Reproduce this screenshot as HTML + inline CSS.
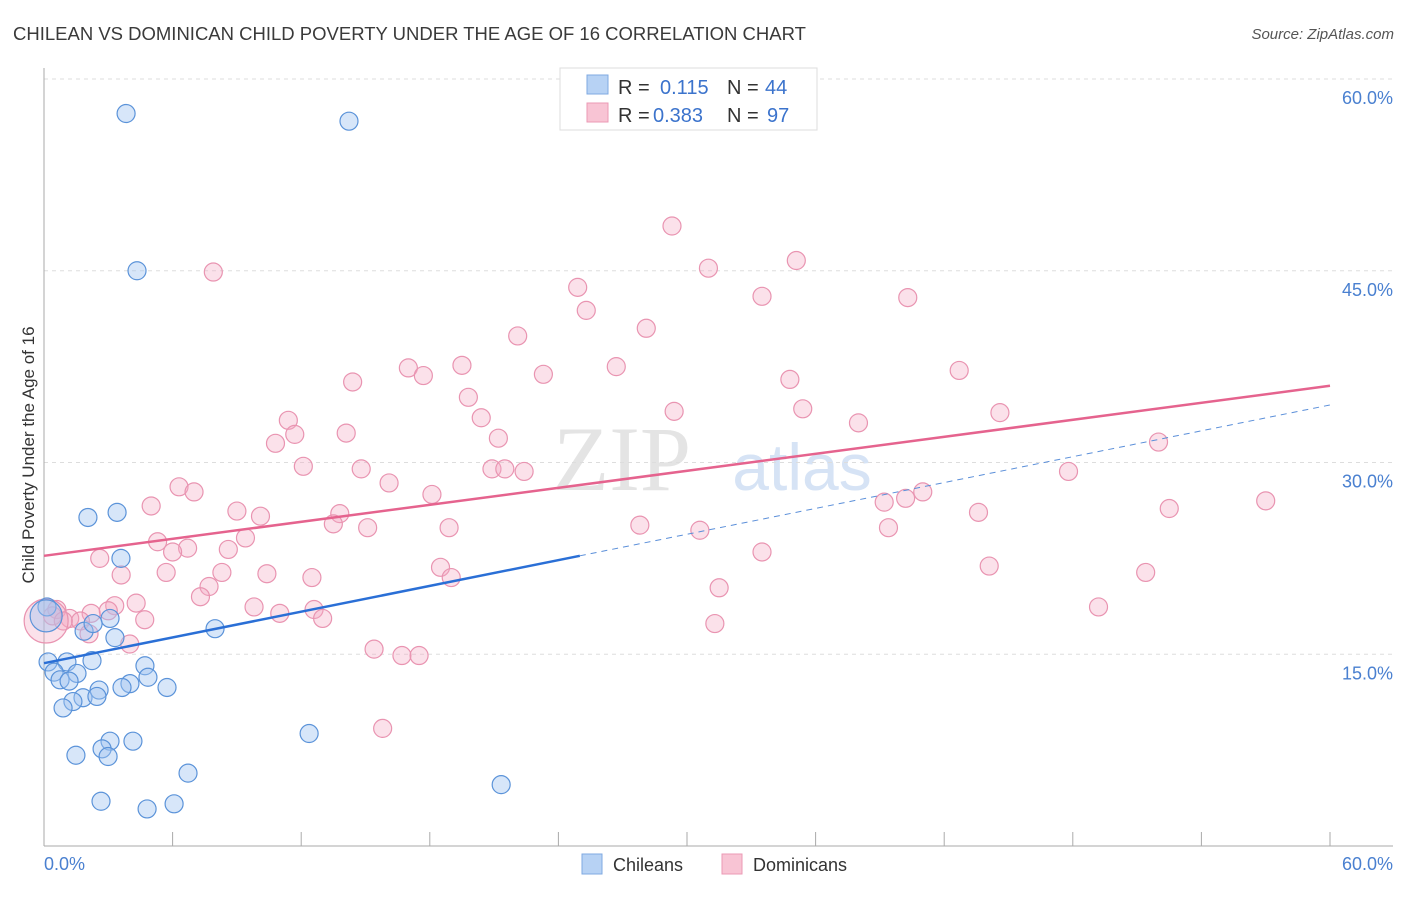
<!DOCTYPE html>
<html><head><meta charset="utf-8">
<style>
body{margin:0;background:#fff;font-family:"Liberation Sans",sans-serif;}
#wrap{position:relative;width:1406px;height:892px;}
</style></head><body>
<div id="wrap">
<svg id="svg" width="1406" height="892" xmlns="http://www.w3.org/2000/svg">
<text x="13" y="40" font-size="18.5" fill="#3a3a3a">CHILEAN VS DOMINICAN CHILD POVERTY UNDER THE AGE OF 16 CORRELATION CHART</text>
<text x="1394" y="39" font-size="15" fill="#555" font-style="italic" text-anchor="end">Source: ZipAtlas.com</text>
<text x="622" y="490" font-size="92" fill="#e4e4e4" font-family="Liberation Serif,serif" text-anchor="middle">ZIP</text>
<text x="802" y="490" font-size="66" fill="#d6e3f5" text-anchor="middle">atlas</text>
<g id="grid"></g>
<g id="axes"></g>
<g id="pts"></g>
<g id="lines"></g>
<text transform="translate(34,455) rotate(-90)" font-size="17" fill="#333" text-anchor="middle">Child Poverty Under the Age of 16</text>
<g>
<rect x="560" y="68" width="257" height="62" fill="#fff" stroke="#ddd"/>
<rect x="587" y="75" width="21" height="19" fill="#b7d2f4" stroke="#7fa9e2"/>
<rect x="587" y="103" width="21" height="19" fill="#f8c4d4" stroke="#eb9ab5"/>
<text x="618" y="94" font-size="20" fill="#333">R = </text><text x="660" y="94" font-size="20" fill="#3b73cc">0.115</text>
<text x="727" y="94" font-size="20" fill="#333">N = </text><text x="765" y="94" font-size="20" fill="#3b73cc">44</text>
<text x="618" y="122" font-size="20" fill="#333">R = </text><text x="653" y="122" font-size="20" fill="#3b73cc">0.383</text>
<text x="727" y="122" font-size="20" fill="#333">N = </text><text x="767" y="122" font-size="20" fill="#3b73cc">97</text>
</g>
<g>
<rect x="582" y="854" width="20" height="20" fill="#b7d2f4" stroke="#7fa9e2"/>
<text x="613" y="871" font-size="18" fill="#333">Chileans</text>
<rect x="722" y="854" width="20" height="20" fill="#f8c4d4" stroke="#eb9ab5"/>
<text x="753" y="871" font-size="18" fill="#333">Dominicans</text>
</g>
</svg>
</div>
<script>
const yTicks=[15,30,45,60];
const yTickLabels=["15.0%","30.0%","45.0%","60.0%"];
const xTickVals=[0,6,12,18,24,30,36,42,48,54,60];
const chileX=[3.83,14.23,4.34,2.05,3.41,3.59,0.14,3.08,1.87,2.29,3.31,7.98,0.19,1.07,2.24,0.47,0.75,1.54,1.17,4.71,4.01,3.64,4.85,5.74,2.57,1.82,2.47,1.35,0.89,12.37,3.08,4.15,2.71,2.99,1.49,6.72,2.66,4.81,6.07,21.33,0.1];
const chileY=[57.3,56.7,45.0,25.7,26.1,22.5,18.7,17.8,16.8,17.4,16.3,17.0,14.4,14.4,14.5,13.6,13.0,13.5,12.9,14.1,12.7,12.4,13.2,12.4,12.2,11.6,11.7,11.3,10.8,8.8,8.2,8.2,7.6,7.0,7.1,5.7,3.5,2.9,3.3,4.8,18.0];
const domX=[29.3,35.1,31.0,7.9,24.9,33.5,40.3,25.3,28.1,22.1,19.5,26.7,17.0,42.7,17.7,14.4,23.3,34.8,19.8,35.4,44.6,20.4,29.4,11.4,38.0,14.1,11.7,10.8,21.2,52.0,12.1,14.8,20.9,21.5,22.4,47.8,16.1,6.3,7.0,18.1,39.2,40.2,41.0,5.0,9.0,10.1,13.8,57.0,52.5,43.6,13.5,15.1,18.9,27.8,30.6,39.4,5.3,6.7,6.0,8.6,9.4,2.6,33.5,3.6,5.7,8.3,10.4,12.5,18.5,19.0,44.1,51.4,7.7,31.5,7.3,4.3,3.3,9.8,2.2,3.0,11.0,12.6,13.0,0.6,0.4,1.2,1.7,4.7,0.9,2.1,49.2,31.3,4.0,15.4,16.7,17.5,15.8,0.1];
const domY=[48.5,45.8,45.2,44.9,43.7,43.0,42.9,41.9,40.5,39.9,37.6,37.5,37.4,37.2,36.8,36.3,36.9,36.5,35.1,34.2,33.9,33.5,34.0,33.3,33.1,32.3,32.2,31.5,31.9,31.6,29.7,29.5,29.5,29.5,29.3,29.3,28.4,28.1,27.7,27.5,26.9,27.2,27.7,26.6,26.2,25.8,26.0,27.0,26.4,26.1,25.2,24.9,24.9,25.1,24.7,24.9,23.8,23.3,23.0,23.2,24.1,22.5,23.0,21.2,21.4,21.4,21.3,21.0,21.8,21.0,21.9,21.4,20.3,20.2,19.5,19.0,18.8,18.7,18.2,18.4,18.2,18.5,17.8,18.5,18.0,17.8,17.6,17.7,17.6,16.6,18.7,17.4,15.8,15.4,14.9,14.9,9.2,17.6];
const chileTrend=[[0,14.3],[25,22.7]];
const chileTrendExt=[[25,22.7],[60,34.5]];
const domTrend=[[0,22.7],[60,36.0]];
const X0=44,X1=1330,Y0=846,YTOP=79;
const sx=v=>X0+(v/60)*(X1-X0);
const sy=v=>Y0-(v/60)*(Y0-YTOP);
const NS="http://www.w3.org/2000/svg";
function mk(tag,attrs,parent){const e=document.createElementNS(NS,tag);for(const k in attrs)e.setAttribute(k,attrs[k]);document.getElementById(parent).appendChild(e);return e;}
yTicks.forEach((t,i)=>{
  const g=mk('line',{x1:X0,x2:1393,y1:sy(t),y2:sy(t),stroke:'#ddd','stroke-dasharray':'4,4'},'grid');
  
  
  const l=mk('text',{x:1393,y:sy(t)+25,'font-size':18,fill:'#4a80d0','text-anchor':'end'},'axes');
  l.textContent=yTickLabels[i];
  
  
});
const ax=mk('line',{x1:X0,x2:X0,y1:68,y2:Y0,stroke:'#aaa'},'axes');


const bx=mk('line',{x1:X0,x2:1393,y1:Y0,y2:Y0,stroke:'#aaa'},'axes');


xTickVals.forEach(t=>{
  const k=mk('line',{x1:sx(t),x2:sx(t),y1:Y0-14,y2:Y0,stroke:'#aaa'},'axes');
  
  
});
const xl=mk('text',{x:44,y:870,'font-size':18,fill:'#4a80d0'},'axes');xl.textContent='0.0%';


const xr=mk('text',{x:1393,y:870,'font-size':18,fill:'#4a80d0','text-anchor':'end'},'axes');xr.textContent='60.0%';


domX.forEach((x,i)=>{
  const big=i===domX.length-1;
  const c=mk('circle',{cx:sx(x),cy:sy(domY[i]),r:big?22:9,fill:'rgba(244,168,194,0.35)',stroke:'#e994b1','stroke-width':1.2},'pts');
  
  
});
chileX.forEach((x,i)=>{
  const big=i===chileX.length-1;
  const c=mk('circle',{cx:sx(x),cy:sy(chileY[i]),r:big?16:9,fill:'rgba(160,196,240,0.42)',stroke:'#5b93d9','stroke-width':1.2},'pts');
  
  
});
const l1=mk('line',{x1:sx(domTrend[0][0]),y1:sy(domTrend[0][1]),x2:sx(domTrend[1][0]),y2:sy(domTrend[1][1]),stroke:'#e5638e','stroke-width':2.5},'lines');


const l2=mk('line',{x1:sx(chileTrend[0][0]),y1:sy(chileTrend[0][1]),x2:sx(chileTrend[1][0]),y2:sy(chileTrend[1][1]),stroke:'#2a6fd6','stroke-width':2.5},'lines');


const l3=mk('line',{x1:sx(chileTrendExt[0][0]),y1:sy(chileTrendExt[0][1]),x2:sx(chileTrendExt[1][0]),y2:sy(chileTrendExt[1][1]),stroke:'#5b8fd9','stroke-width':1,'stroke-dasharray':'6,5'},'lines');


</script>
</body></html>
